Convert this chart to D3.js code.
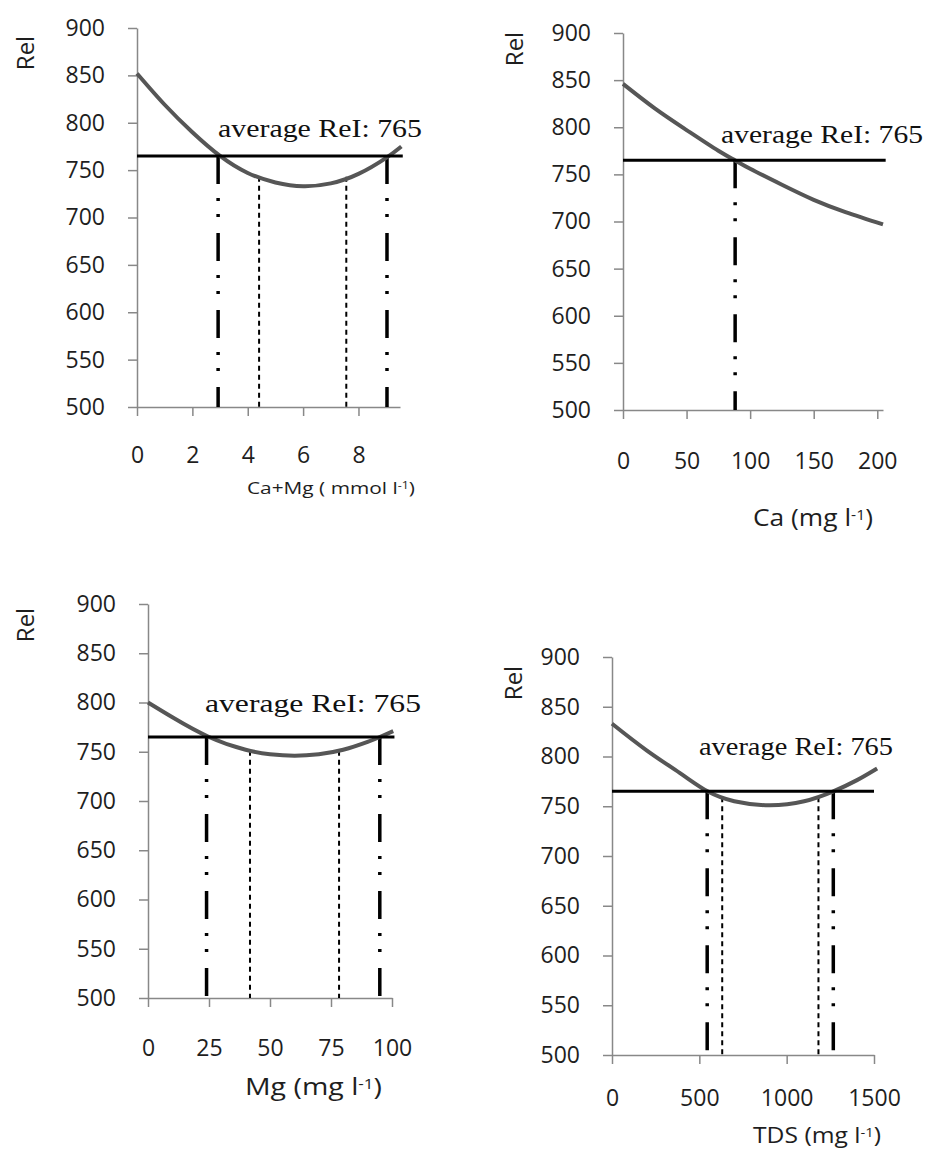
<!DOCTYPE html>
<html>
<head>
<meta charset="utf-8">
<script src="https://cdn.jsdelivr.net/npm/d3@7"></script>
<style>
  body { margin: 0; background: #fff; }
  svg { display: block; }
</style>
</head>
<body>
<script>
// ---- data ----
const avgRel = 765
const relTicks = [500, 550, 600, 650, 700, 750, 800, 850, 900]

// Ca+Mg (mmol l-1)
const caMgX = [0, 1, 2, 3, 4, 5, 6, 7, 8, 9, 9.55]
const caMgRel = [852, 819, 790, 765, 747, 737, 733, 736, 746, 763, 775]
const caMgTicks = [0, 2, 4, 6, 8]
const caMgCross = [2.93, 9.03]
const caMgInner = [4.41, 7.56]
const caMgInnerTop = 743

// Ca (mg l-1)
const caX = [0, 25, 50, 75, 88, 100, 125, 150, 175, 204.5]
const caRel = [846, 820, 797, 775, 765, 756, 739, 723, 710, 697]
const caTicks = [0, 50, 100, 150, 200]
const caCross = [88.2]
const caInner = []
const caInnerTop = 765

// Mg (mg l-1)
const mgX = [0, 10, 25, 40, 50, 60, 70, 80, 90, 95, 100.5]
const mgRel = [800, 785, 765, 752, 747.5, 746, 747.5, 752, 760, 765, 771]
const mgTicks = [0, 25, 50, 75, 100]
const mgCross = [24, 95]
const mgInner = [41.8, 78.3]
const mgInnerTop = 751

// TDS (mg l-1)
const tdsX = [0, 200, 400, 547, 700, 900, 1100, 1267, 1400, 1518]
const tdsRel = [833, 806, 782, 765, 755, 751, 755, 765, 776, 788]
const tdsTicks = [0, 500, 1000, 1500]
const tdsCross = [545, 1267]
const tdsInner = [631, 1182]
const tdsInnerTop = 759

const sans = "'Open Sans', sans-serif"
const serif = "'Liberation Serif', 'Times New Roman', serif"
const ink = "#1e1e1e"

const svg = d3.select("body")
    .append("svg")
    .attr("width", 927)
    .attr("height", 1149)

const panels = [
    { xs: caMgX, ys: caMgRel, ticks: caMgTicks, cross: caMgCross, inner: caMgInner, innerTop: caMgInnerTop,
      xMax: 9.5, avgEnd: 9.6, left: 137, right: 400, top: 28, bottom: 407, tickPad: 31,
      relPos: [24, 53], avgPos: [218, 137, 204],
      title: ["Ca+Mg ( mmol  l", "-1", ")"], titlePos: [247, 494, 168], titleSize: 17 },
    { xs: caX, ys: caRel, ticks: caTicks, cross: caCross, inner: caInner, innerTop: caInnerTop,
      xMax: 204.5, avgEnd: 206.6, left: 623, right: 883, top: 33, bottom: 410, tickPad: 34,
      relPos: [513, 49], avgPos: [721, 143, 202],
      title: ["Ca (mg l", "-1", ")"], titlePos: [753, 526, 120], titleSize: 23 },
    { xs: mgX, ys: mgRel, ticks: mgTicks, cross: mgCross, inner: mgInner, innerTop: mgInnerTop,
      xMax: 100, avgEnd: 101, left: 148, right: 392, top: 604, bottom: 998, tickPad: 33,
      relPos: [24, 625], avgPos: [205, 712, 216],
      title: ["Mg (mg l", "-1", ")"], titlePos: [245, 1095, 137], titleSize: 24 },
    { xs: tdsX, ys: tdsRel, ticks: tdsTicks, cross: tdsCross, inner: tdsInner, innerTop: tdsInnerTop,
      xMax: 1500, avgEnd: 1500, left: 612, right: 874, top: 657, bottom: 1055, tickPad: 26,
      relPos: [512, 683], avgPos: [699, 755, 194],
      title: ["TDS (mg l", "-1", ")"], titlePos: [753, 1143, 128], titleSize: 21 }
]

panels.forEach(drawPanel)

function drawPanel(p) {
    const x = d3.scaleLinear().domain([0, p.xMax]).range([p.left, p.right])
    const y = d3.scaleLinear().domain([500, 900]).range([p.bottom, p.top])
    const g = svg.append("g")

    // axes
    const yAxis = g.append("g")
        .attr("transform", `translate(${p.left},0)`)
        .call(d3.axisLeft(y).tickValues(relTicks).tickSize(9).tickSizeOuter(0).tickPadding(23))
    const xAxis = g.append("g")
        .attr("transform", `translate(0,${p.bottom})`)
        .call(d3.axisBottom(x).tickValues(p.ticks).tickFormat(d3.format("d"))
            .tickSize(9).tickSizeOuter(0).tickPadding(p.tickPad))

    for (const ax of [yAxis, xAxis]) {
        ax.select(".domain").attr("stroke", "#888").attr("stroke-width", 1.5)
        ax.selectAll(".tick line").attr("stroke", "#888").attr("stroke-width", 1.5)
        ax.selectAll(".tick text")
            .attr("fill", ink)
            .style("font-family", sans)
            .style("font-size", "23px")
    }

    // thin dashed lines
    g.selectAll(".inner").data(p.inner).enter()
        .append("line")
        .attr("x1", d => x(d)).attr("x2", d => x(d))
        .attr("y1", y(p.innerTop)).attr("y2", y(500))
        .attr("stroke", "#000")
        .attr("stroke-width", 2)
        .attr("stroke-dasharray", "5,4")

    // dash-dot-dot lines at the crossings
    g.selectAll(".cross").data(p.cross).enter()
        .append("line")
        .attr("x1", d => x(d)).attr("x2", d => x(d))
        .attr("y1", y(avgRel)).attr("y2", y(500))
        .attr("stroke", "#000")
        .attr("stroke-width", 3.5)
        .attr("stroke-dasharray", "28,14,3,13,3,16")

    // fitted curve
    const pts = p.xs.map((v, i) => [v, p.ys[i]])
    g.append("path")
        .datum(pts)
        .attr("fill", "none")
        .attr("stroke", "#565656")
        .attr("stroke-width", 4)
        .attr("d", d3.line().x(d => x(d[0])).y(d => y(d[1])).curve(d3.curveNatural))

    // average line
    g.append("line")
        .attr("x1", x(0)).attr("x2", x(p.avgEnd))
        .attr("y1", y(avgRel)).attr("y2", y(avgRel))
        .attr("stroke", "#000")
        .attr("stroke-width", 3)

    g.append("text")
        .attr("x", p.avgPos[0])
        .attr("y", p.avgPos[1])
        .attr("textLength", p.avgPos[2])
        .attr("lengthAdjust", "spacingAndGlyphs")
        .style("font-family", serif)
        .style("font-size", "25px")
        .attr("fill", "#111")
        .text(`average ReI: ${avgRel}`)

    // y label
    g.append("text")
        .attr("transform", `translate(${p.relPos[0]},${p.relPos[1]}) rotate(-90)`)
        .attr("text-anchor", "middle")
        .attr("dominant-baseline", "central")
        .style("font-family", sans)
        .style("font-size", "24px")
        .attr("fill", ink)
        .text("Rel")

    // x title
    const t = g.append("text")
        .attr("x", p.titlePos[0])
        .attr("y", p.titlePos[1])
        .attr("textLength", p.titlePos[2])
        .attr("lengthAdjust", "spacingAndGlyphs")
        .style("font-family", sans)
        .style("font-size", p.titleSize + "px")
        .attr("fill", ink)
    t.append("tspan").text(p.title[0])
    t.append("tspan").attr("dy", "-0.45em").style("font-size", "0.6em").text(p.title[1])
    t.append("tspan").attr("dy", "0.27em").text(p.title[2])
}
</script>
</body>
</html>
